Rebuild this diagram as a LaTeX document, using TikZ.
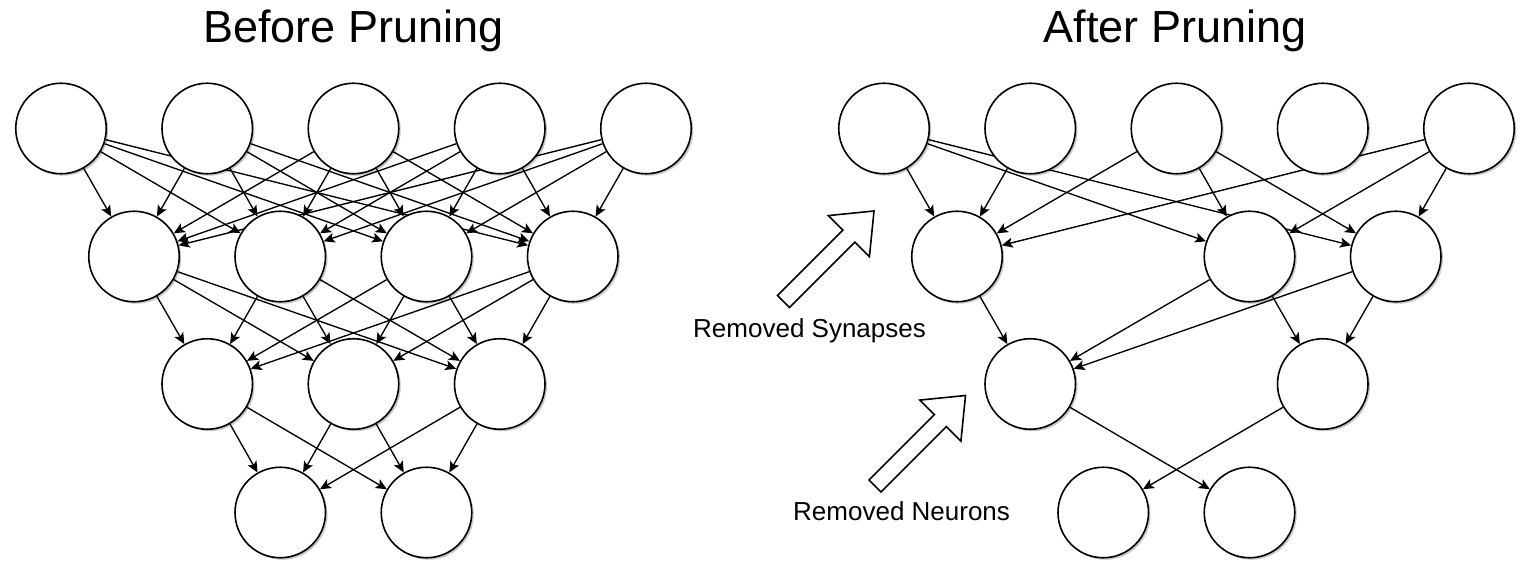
\documentclass[tikz,border=0pt]{standalone}
\usepackage{fontspec}
\setmainfont{Liberation Sans}
\usetikzlibrary{arrows.meta,shadows}
\pgfdeclarelayer{bg}
\pgfsetlayers{bg,main}
\begin{document}
\begin{tikzpicture}[x=1pt,y=-1pt,
  neuron/.style={circle, draw=black, line width=1.6pt, fill=white,
    minimum size=90.5pt, inner sep=0pt,
    drop shadow={shadow xshift=2pt, shadow yshift=-2pt, opacity=0.22, fill=black}},
  syn/.style={draw=black, line width=1.35pt,
    -{Stealth[length=11pt,width=10pt,inset=2.5pt]}},
  title/.style={font=\fontsize{45}{54}\selectfont, anchor=base, inner sep=0pt},
  note/.style={font=\fontsize{26}{31}\selectfont, anchor=base west, inner sep=0pt},
  hollow/.style={draw=black, line width=1.6pt, fill=white, line join=miter}
]
\useasboundingbox (0,0) rectangle (1524,564);

% titles
\node[title] (t1) at (353.5,43) {Before Pruning};
\node[title] (t2) at (1175,43) {After Pruning};

% ---- dense network ----
\foreach \i/\x in {1/61,2/207.25,3/353.5,4/499.75,5/646}
  \node[neuron] (a\i) at (\x,128.5) {};
\foreach \i/\x in {1/134,2/280.25,3/426.5,4/572.75}
  \node[neuron] (b\i) at (\x,256.5) {};
\foreach \i/\x in {1/207.25,2/353.5,3/499.75}
  \node[neuron] (c\i) at (\x,384) {};
\foreach \i/\x in {1/280.25,2/426.5}
  \node[neuron] (d\i) at (\x,512.5) {};

\begin{pgfonlayer}{bg}
  \foreach \i in {1,...,5} \foreach \j in {1,...,4} \draw[syn] (a\i) -- (b\j);
  \foreach \i in {1,...,4} \foreach \j in {1,...,3} \draw[syn] (b\i) -- (c\j);
  \foreach \i in {1,...,3} \foreach \j in {1,2} \draw[syn] (c\i) -- (d\j);
\end{pgfonlayer}

% ---- pruned network ----
\foreach \i/\x in {1/884,2/1030.25,3/1176.5,4/1322.75,5/1469}
  \node[neuron] (p\i) at (\x,128.5) {};
\foreach \i/\x in {1/957,3/1249.5,4/1395.75}
  \node[neuron] (q\i) at (\x,256.5) {};
\foreach \i/\x in {1/1030.25,3/1322.75}
  \node[neuron] (r\i) at (\x,384) {};
\foreach \i/\x in {1/1103.25,2/1249.5}
  \node[neuron] (s\i) at (\x,512.5) {};

\begin{pgfonlayer}{bg}
  \foreach \a/\b in {p1/q1,p1/q3,p1/q4,p2/q1,p3/q1,p3/q3,p3/q4,p5/q1,p5/q3,p5/q4}
    \draw[syn] (\a) -- (\b);
  \foreach \a/\b in {q1/r1,q3/r1,q4/r1,q3/r3,q4/r3}
    \draw[syn] (\a) -- (\b);
  \foreach \a/\b in {r1/s2,r3/s1}
    \draw[syn] (\a) -- (\b);
\end{pgfonlayer}

% hollow pointer arrows
\begin{scope}[shift={(783.5,301.5)}, rotate=45]
  \draw[hollow] (0,-8.5) -- (92.5,-8.5) -- (92.5,-29) -- (128,0)
    -- (92.5,29) -- (92.5,8.5) -- (0,8.5) -- cycle;
\end{scope}
\begin{scope}[shift={(875,486)}, rotate=45]
  \draw[hollow] (0,-8.5) -- (92.5,-8.5) -- (92.5,-29) -- (128,0)
    -- (92.5,29) -- (92.5,8.5) -- (0,8.5) -- cycle;
\end{scope}

\node[note] (l1) at (693,337) {Removed Synapses};
\node[note] (l2) at (793,520) {Removed Neurons};
\end{tikzpicture}
\end{document}
